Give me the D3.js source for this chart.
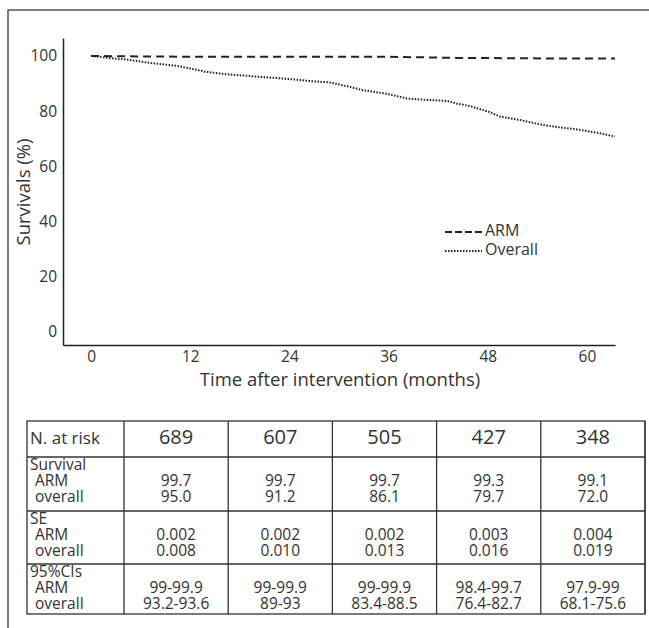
<!DOCTYPE html>
<html>
<head>
<meta charset="utf-8">
<script src="https://cdn.jsdelivr.net/npm/d3@7"></script>
<style>
  body { margin: 0; background: #fff; }
  svg { display: block; font-family: "Open Sans", sans-serif; }
</style>
</head>
<body>
<div id="chart"></div>
<script>
// curve data
const armMonths = [0, 3, 12, 36, 44, 55, 63.4];
const armValues = [100, 99.9, 99.7, 99.7, 99.3, 99.1, 99.1];

const overallMonths = [0, 1, 2.3, 4, 5.5, 6.8, 8.5, 10.4, 12.3, 13.8, 16.0, 18, 20.1, 22, 24.1, 26.9, 28.9, 31.0, 32.9, 35.8, 38.2, 40, 43.1, 44.3, 45.8, 47.0, 48.2, 49.5, 51.9, 54.7, 56.5, 58.8, 61.6, 63.4];
const overallValues = [100, 99.7, 99.2, 98.8, 98.2, 97.6, 97.0, 96.4, 95.3, 94.3, 93.5, 93.0, 92.5, 92.1, 91.6, 90.8, 90.4, 89.0, 87.6, 86.3, 84.6, 84.2, 83.7, 82.7, 81.9, 80.8, 79.7, 78.0, 76.8, 75.0, 74.2, 73.4, 72.0, 70.8];

const xTicks = [0, 12, 24, 36, 48, 60];
const yTicks = [0, 20, 40, 60, 80, 100];

// table under the chart
const nAtRisk = ['689', '607', '505', '427', '348'];
const survArm = ['99.7', '99.7', '99.7', '99.3', '99.1'];
const survOverall = ['95.0', '91.2', '86.1', '79.7', '72.0'];
const seArm = ['0.002', '0.002', '0.002', '0.003', '0.004'];
const seOverall = ['0.008', '0.010', '0.013', '0.016', '0.019'];
const ciArm = ['99-99.9', '99-99.9', '99-99.9', '98.4-99.7', '97.9-99'];
const ciOverall = ['93.2-93.6', '89-93', '83.4-88.5', '76.4-82.7', '68.1-75.6'];

const W = 649, H = 628;
const svg = d3.select('#chart').append('svg')
  .attr('width', W)
  .attr('height', H);

// outer frame (top + left only, the rest is cut off)
svg.append('path')
  .attr('d', `M8,${H} L8,10 L${W},10`)
  .attr('fill', 'none')
  .attr('stroke', '#555')
  .attr('stroke-width', 1.5);

const x = d3.scaleLinear().domain([-3.4, 63.4]).range([63, 615]);
const y = d3.scaleLinear().domain([-4.7, 106.5]).range([345, 38]);

// axes
const gy = svg.append('g')
  .attr('transform', 'translate(63,0)')
  .call(d3.axisLeft(y).tickValues(yTicks).tickSize(0).tickSizeOuter(0).tickPadding(6));
const gx = svg.append('g')
  .attr('transform', 'translate(0,345)')
  .call(d3.axisBottom(x).tickValues(xTicks).tickSize(0).tickSizeOuter(0).tickPadding(6));

[gx, gy].forEach(g => {
  g.select('.domain').attr('stroke', '#222').attr('stroke-width', 1.5);
  g.selectAll('text')
    .attr('font-family', '"Open Sans", sans-serif')
    .attr('font-size', 15.5)
    .attr('fill', '#333');
});

svg.append('text')
  .attr('transform', 'translate(25,192) rotate(-90)')
  .attr('text-anchor', 'middle')
  .attr('dominant-baseline', 'middle')
  .attr('font-size', 18.5)
  .attr('fill', '#333')
  .text('Survivals (%)');

svg.append('text')
  .attr('x', 340)
  .attr('y', 381)
  .attr('text-anchor', 'middle')
  .attr('dominant-baseline', 'middle')
  .attr('font-size', 18.5)
  .attr('fill', '#333')
  .text('Time after intervention (months)');

// curves
const line = d3.line()
  .x(d => x(d[0]))
  .y(d => y(d[1]));

svg.append('path')
  .datum(d3.zip(armMonths, armValues))
  .attr('d', line)
  .attr('fill', 'none')
  .attr('stroke', '#222')
  .attr('stroke-width', 2)
  .attr('stroke-dasharray', '8,5');

svg.append('path')
  .datum(d3.zip(overallMonths, overallValues))
  .attr('d', line)
  .attr('fill', 'none')
  .attr('stroke', '#222')
  .attr('stroke-width', 2)
  .attr('stroke-dasharray', '1.5,1.5');

// legend
const legend = [
  { name: 'ARM', dash: '7,3', y: 232 },
  { name: 'Overall', dash: '1.5,1.5', y: 251 }
];
legend.forEach(l => {
  svg.append('line')
    .attr('x1', 445).attr('x2', 482)
    .attr('y1', l.y).attr('y2', l.y)
    .attr('stroke', '#222')
    .attr('stroke-width', 2.2)
    .attr('stroke-dasharray', l.dash);
  svg.append('text')
    .attr('x', 485)
    .attr('y', l.y)
    .attr('dominant-baseline', 'middle')
    .attr('font-size', 16)
    .attr('fill', '#333')
    .text(l.name);
});

// table
const tLeft = 27, tRight = 645, labelW = 97;
const colW = (tRight - tLeft - labelW) / 5;
const rowY = [421, 457, 511, 564, 614];

const rows = [
  { title: 'N. at risk', lines: [nAtRisk] },
  { title: 'Survival', lines: [survArm, survOverall] },
  { title: 'SE', lines: [seArm, seOverall] },
  { title: '95%CIs', lines: [ciArm, ciOverall] }
];

const table = svg.append('g');

table.append('rect')
  .attr('x', tLeft).attr('y', rowY[0])
  .attr('width', tRight - tLeft).attr('height', rowY[4] - rowY[0])
  .attr('fill', 'none')
  .attr('stroke', '#333')
  .attr('stroke-width', 1.3);

rowY.slice(1, 4).forEach(yy => {
  table.append('line')
    .attr('x1', tLeft).attr('x2', tRight)
    .attr('y1', yy).attr('y2', yy)
    .attr('stroke', '#333').attr('stroke-width', 1.3);
});
d3.range(6).forEach(i => {
  const xx = tLeft + labelW + i * colW;
  table.append('line')
    .attr('x1', xx).attr('x2', xx)
    .attr('y1', rowY[0]).attr('y2', rowY[4])
    .attr('stroke', '#333').attr('stroke-width', 1.3);
});

const colX = i => tLeft + labelW + colW * (i + 0.5);

// first row: single line, bigger numbers
table.append('text')
  .attr('x', tLeft + 3).attr('y', (rowY[0] + rowY[1]) / 2)
  .attr('dominant-baseline', 'middle')
  .attr('font-size', 17).attr('fill', '#333')
  .text(rows[0].title);
nAtRisk.forEach((v, i) => {
  table.append('text')
    .attr('x', colX(i)).attr('y', (rowY[0] + rowY[1]) / 2)
    .attr('text-anchor', 'middle')
    .attr('dominant-baseline', 'middle')
    .attr('font-size', 20).attr('fill', '#333')
    .text(v);
});

// other rows: title line, then ARM and overall lines
rows.slice(1).forEach((r, k) => {
  const top = rowY[k + 1];
  const lineY = [top + 9, top + 25, top + 41];
  table.append('text')
    .attr('x', tLeft + 3).attr('y', lineY[0])
    .attr('dominant-baseline', 'middle')
    .attr('font-size', 15.5).attr('fill', '#333')
    .text(r.title);
  ['ARM', 'overall'].forEach((lab, j) => {
    table.append('text')
      .attr('x', tLeft + 8).attr('y', lineY[j + 1])
      .attr('dominant-baseline', 'middle')
      .attr('font-size', 15.5).attr('fill', '#333')
      .text(lab);
    r.lines[j].forEach((v, i) => {
      table.append('text')
        .attr('x', colX(i)).attr('y', lineY[j + 1])
        .attr('text-anchor', 'middle')
        .attr('dominant-baseline', 'middle')
        .attr('font-size', 15.5).attr('fill', '#333')
        .text(v);
    });
  });
});
</script>
</body>
</html>
